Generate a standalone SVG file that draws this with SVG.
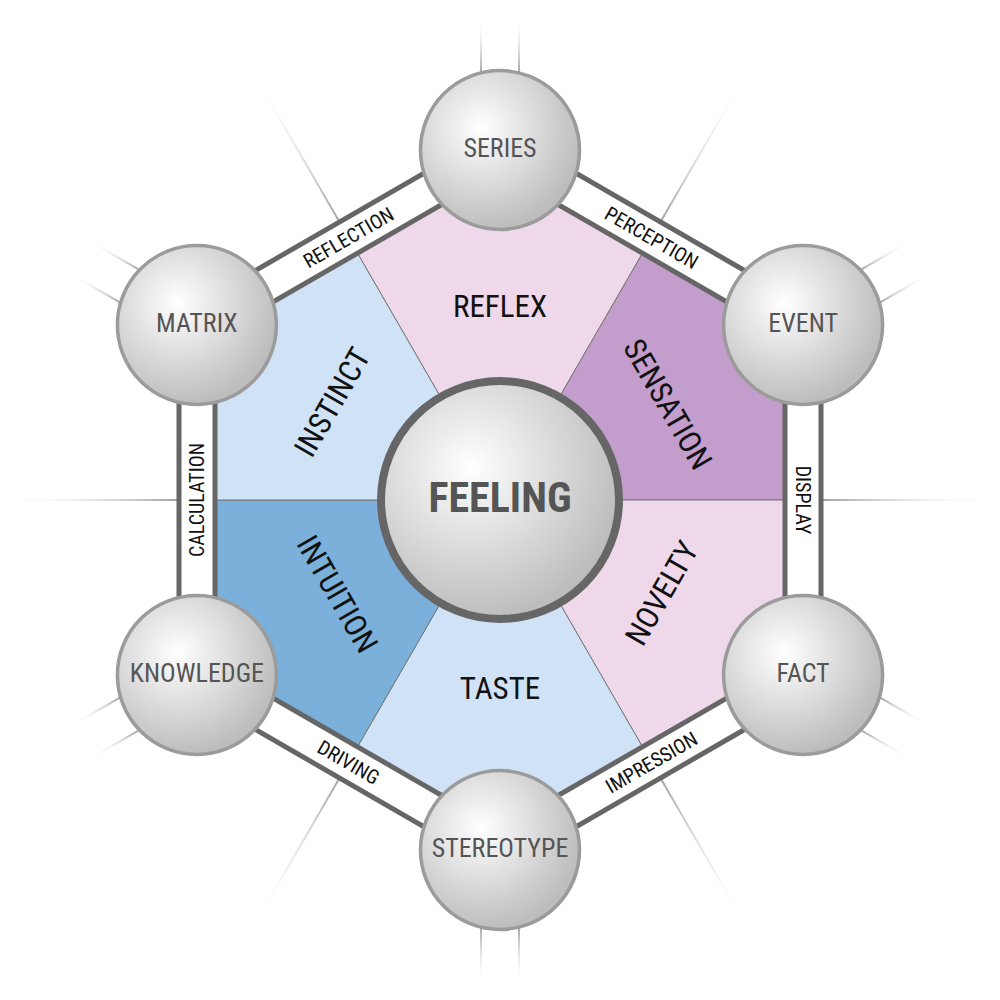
<svg xmlns="http://www.w3.org/2000/svg" width="1000" height="1000" viewBox="0 0 1000 1000">
  <style>
    text { font-family: 'Roboto Condensed', Roboto, 'Liberation Sans', sans-serif; text-anchor: middle; }
    .seg-label { font-size: 31px; fill: #111; }
    .node-label { font-size: 26px; fill: #555; }
    .band-label { font-size: 20px; fill: #111; }
    .center-label { font-size: 42px; font-weight: bold; fill: #555; }
    .seg { stroke: #777; stroke-width: 1; }
    .node { fill: url(#ball); stroke: #9b9b9b; stroke-width: 3.5; }
    .band-outer { fill: #fff; stroke: #666; stroke-width: 5; stroke-linejoin: miter; }
    .band-inner { fill: none; stroke: #666; stroke-width: 5; }
  </style>
  <defs>
    <radialGradient id="ball" cx="38%" cy="36%" r="64%" fx="38%" fy="36%">
      <stop offset="0" stop-color="#ffffff"/>
      <stop offset="1" stop-color="#bdbdbd"/>
    </radialGradient>
    <linearGradient id="fadeSingle" x1="0" y1="0" x2="1" y2="0">
      <stop offset="0" stop-color="#a0a0a0"/>
      <stop offset="1" stop-color="#ffffff" stop-opacity="0"/>
    </linearGradient>
    <linearGradient id="fadePair" x1="0" y1="0" x2="1" y2="0">
      <stop offset="0" stop-color="#999999"/>
      <stop offset="0.6" stop-color="#a8a8a8"/>
      <stop offset="1" stop-color="#ffffff" stop-opacity="0.2"/>
    </linearGradient>
  </defs>

  <rect width="1000" height="1000" fill="#fff"/>

  <!-- radial guide lines -->
  <g id="guides">
    <g id="single-lines" fill="url(#fadeSingle)">
      <rect x="821" y="499" width="179" height="2" transform="rotate(0 500 500)"/>
      <rect x="821" y="499" width="174" height="2" transform="rotate(60 500 500)"/>
      <rect x="821" y="499" width="174" height="2" transform="rotate(120 500 500)"/>
      <rect x="821" y="499" width="179" height="2" transform="rotate(180 500 500)"/>
      <rect x="821" y="499" width="174" height="2" transform="rotate(240 500 500)"/>
      <rect x="821" y="499" width="174" height="2" transform="rotate(300 500 500)"/>
    </g>
    <g id="pair-lines" fill="url(#fadePair)">
      <g transform="rotate(-90 500 500)"><rect x="850" y="480" width="130" height="2"/><rect x="850" y="518" width="130" height="2"/></g>
      <g transform="rotate(-30 500 500)"><rect x="850" y="480" width="130" height="2"/><rect x="850" y="518" width="130" height="2"/></g>
      <g transform="rotate(30 500 500)"><rect x="850" y="480" width="130" height="2"/><rect x="850" y="518" width="130" height="2"/></g>
      <g transform="rotate(90 500 500)"><rect x="850" y="480" width="130" height="2"/><rect x="850" y="518" width="130" height="2"/></g>
      <g transform="rotate(150 500 500)"><rect x="850" y="480" width="130" height="2"/><rect x="850" y="518" width="130" height="2"/></g>
      <g transform="rotate(210 500 500)"><rect x="850" y="480" width="130" height="2"/><rect x="850" y="518" width="130" height="2"/></g>
    </g>
  </g>

  <!-- connectors: hexagonal band between the nodes -->
  <g id="connectors">
    <polygon class="band-outer" points="500,129.34 821,314.67 821,685.33 500,870.66 179,685.33 179,314.67"/>
  </g>

  <!-- segments -->
  <g id="segments">
    <g id="seg-reflex">
      <polygon class="seg" fill="#efd8ea" points="500,500 357.5,253.18 500,170.91 642.5,253.18"/>
      <text class="seg-label" x="500" y="317">REFLEX</text>
    </g>
    <g id="seg-sensation">
      <polygon class="seg" fill="#c39dcb" points="500,500 642.5,253.18 785,335.45 785,500"/>
      <text class="seg-label" transform="translate(668,404) rotate(60)" y="11">SENSATION</text>
    </g>
    <g id="seg-novelty">
      <polygon class="seg" fill="#efd8ea" points="500,500 785,500 785,664.55 642.5,746.82"/>
      <text class="seg-label" transform="translate(661.5,593) rotate(-60)" y="11">NOVELTY</text>
    </g>
    <g id="seg-taste">
      <polygon class="seg" fill="#cfe2f6" points="500,500 642.5,746.82 500,829.09 357.5,746.82"/>
      <text class="seg-label" x="500" y="699">TASTE</text>
    </g>
    <g id="seg-intuition">
      <polygon class="seg" fill="#7bb0da" points="500,500 357.5,746.82 215,664.55 215,500"/>
      <text class="seg-label" transform="translate(337.5,594) rotate(60)" y="11">INTUITION</text>
    </g>
    <g id="seg-instinct">
      <polygon class="seg" fill="#cfe2f6" points="500,500 215,500 215,335.45 357.5,253.18"/>
      <text class="seg-label" transform="translate(332,402) rotate(-60)" y="11">INSTINCT</text>
    </g>
  </g>

  <g id="band-inner-line">
    <polygon class="band-inner" points="500,170.91 785,335.45 785,664.55 500,829.09 215,664.55 215,335.45"/>
  </g>

  <!-- connector labels -->
  <g id="connector-labels">
    <text class="band-label" transform="translate(348.5,237.6) rotate(-30)" y="7">REFLECTION</text>
    <text class="band-label" transform="translate(651.5,237.6) rotate(30)" y="7">PERCEPTION</text>
    <text class="band-label" transform="translate(803,500) rotate(90)" y="7">DISPLAY</text>
    <text class="band-label" transform="translate(651.5,762.4) rotate(-30)" y="7">IMPRESSION</text>
    <text class="band-label" transform="translate(348.5,762.4) rotate(30)" y="7">DRIVING</text>
    <text class="band-label" transform="translate(197,500) rotate(-90)" y="7">CALCULATION</text>
  </g>

  <!-- nodes -->
  <g id="node-series">
    <circle class="node" cx="500" cy="150" r="79.5"/>
    <text class="node-label" x="500" y="157">SERIES</text>
  </g>
  <g id="node-event">
    <circle class="node" cx="803.1" cy="325" r="79.5"/>
    <text class="node-label" x="803.1" y="332">EVENT</text>
  </g>
  <g id="node-fact">
    <circle class="node" cx="803.1" cy="675" r="79.5"/>
    <text class="node-label" x="803.1" y="682">FACT</text>
  </g>
  <g id="node-stereotype">
    <circle class="node" cx="500" cy="850" r="79.5"/>
    <text class="node-label" x="500" y="857">STEREOTYPE</text>
  </g>
  <g id="node-knowledge">
    <circle class="node" cx="196.9" cy="675" r="79.5"/>
    <text class="node-label" x="196.9" y="682">KNOWLEDGE</text>
  </g>
  <g id="node-matrix">
    <circle class="node" cx="196.9" cy="325" r="79.5"/>
    <text class="node-label" x="196.9" y="332">MATRIX</text>
  </g>
  <g id="node-feeling">
    <circle cx="500" cy="500" r="119" fill="url(#ball)" stroke="#666" stroke-width="8"/>
    <text class="center-label" x="500" y="512">FEELING</text>
  </g>
</svg>
